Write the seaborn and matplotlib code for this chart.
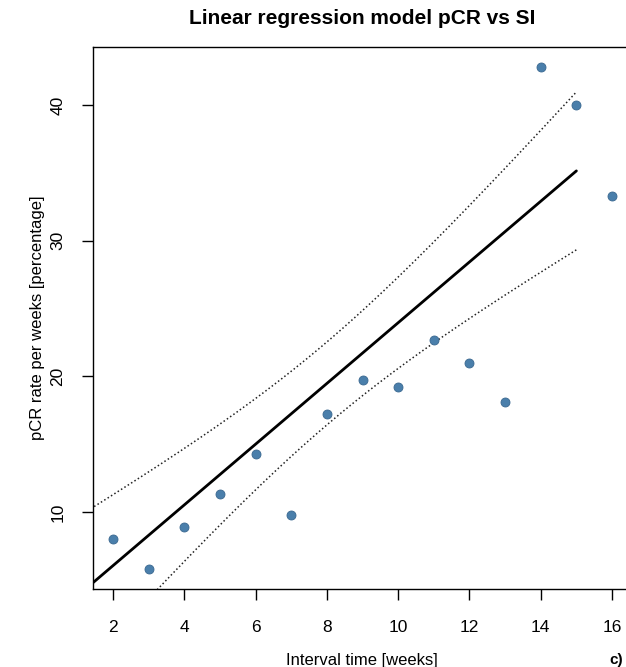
import numpy as np
import pandas as pd
import matplotlib
matplotlib.use("Agg")
import matplotlib.pyplot as plt
import seaborn as sns

# data
weeks = [2, 3, 4, 5, 6, 7, 8, 9, 10, 11, 12, 13, 14, 15, 16]
pcr_rate = [8.0, 5.8, 8.9, 11.3, 14.3, 9.8, 17.2, 19.7, 19.2, 22.7, 21.0, 18.1, 42.8, 40.0, 33.3]
x_ticks = [2, 4, 6, 8, 10, 12, 14, 16]
y_ticks = [10, 20, 30, 40]

df = pd.DataFrame({"weeks": weeks, "pcr": pcr_rate})

sns.set_theme(style="white")
plt.rcParams['font.family'] = ['Liberation Sans', 'DejaVu Sans']
plt.rcParams['text.color'] = 'black'
plt.rcParams['xtick.color'] = 'black'
plt.rcParams['ytick.color'] = 'black'
plt.rcParams['axes.labelcolor'] = 'black'

fig = plt.figure(figsize=(6.26, 6.67), dpi=100)
ax = fig.add_axes([93/626, 1-589/667, (632-93)/626, (589-47)/667])

# linear model + 95% confidence band (drawn one index to the left, as in the reference)
x = np.array(weeks, float)
y = np.array(pcr_rate, float)
n = len(x)
b, a = np.polyfit(x, y, 1)
res = y - (a + b * x)
s = np.sqrt(np.sum(res**2) / (n - 2))
t = 2.160
grid = np.linspace(x.min(), x.max(), 200)
fit = a + b * grid
half = t * s * np.sqrt(1/n + (grid - x.mean())**2 / np.sum((x - x.mean())**2))
xp = grid - 1

ax.plot(xp, fit, color="black", lw=2.0)
ax.plot(xp, fit + half, color="#222222", lw=1.1, ls=(0, (1, 1.6)))
ax.plot(xp, fit - half, color="#222222", lw=1.1, ls=(0, (1, 1.6)))

sns.scatterplot(data=df, x="weeks", y="pcr", ax=ax, color="#4a7fab",
                edgecolor="#3a6890", linewidth=0.6, s=42, zorder=5)

xr = max(weeks) - min(weeks)
yr = max(pcr_rate) - min(pcr_rate)
ax.set_xlim(min(weeks) - 0.04 * xr, max(weeks) + 0.04 * xr)
ax.set_ylim(min(pcr_rate) - 0.04 * yr, max(pcr_rate) + 0.04 * yr)

ax.set_xticks(x_ticks)
ax.set_yticks(y_ticks)
ax.set_xticklabels([str(v) for v in x_ticks], fontsize=12.5, color="black")
ax.set_yticklabels([str(v) for v in y_ticks], fontsize=12.5, rotation=90, va="center", color="black")
ax.tick_params(axis="both", direction="out", length=8, width=1, color="black",
               bottom=True, left=True)
ax.tick_params(axis="x", pad=14)
ax.tick_params(axis="y", pad=12)
for sp in ax.spines.values():
    sp.set_visible(True)
    sp.set_color("black")
    sp.set_linewidth(1.0)

ax.set_xlabel("")
ax.set_ylabel("")
fig.text(362/626, 1-660/667, "Interval time [weeks]", ha="center", va="center", fontsize=12)
fig.text(38/626, 1-318/667, "pCR rate per weeks [percentage]", ha="center", va="center",
         fontsize=12, rotation=90)
fig.text(362/626, 1-18/667, "Linear regression model pCR vs SI", ha="center", va="center",
         fontsize=15, fontweight="bold")
fig.text(609/626, 1-660/667, "c)", ha="left", va="center", fontsize=11, fontweight="bold")

fig.savefig("out.png", dpi=100)
